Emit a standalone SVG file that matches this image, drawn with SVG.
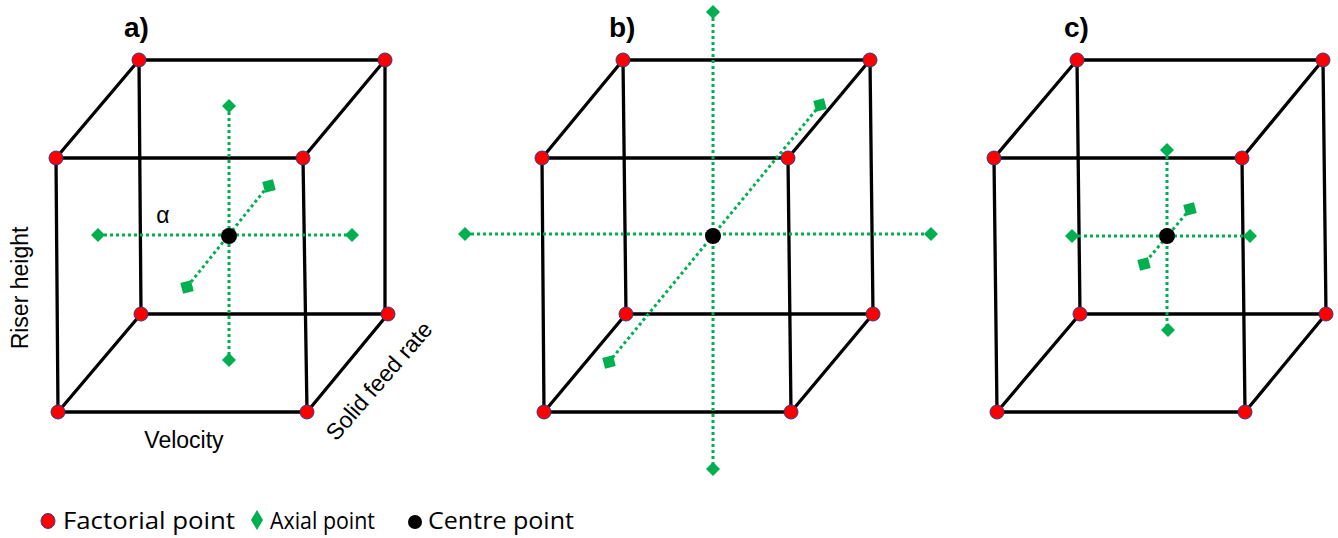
<svg xmlns="http://www.w3.org/2000/svg" width="1338" height="538" viewBox="0 0 1338 538">
<style>
.edge{stroke:#000;stroke-width:3.3;fill:none;stroke-linecap:square}
.ax{stroke:#00B050;stroke-width:3;stroke-dasharray:3 3;fill:none}
.fp{fill:#FF0000;stroke:#2F3C8C;stroke-width:1}
.dm{fill:#00B050}
.cp{fill:#000}
.lbl{font-family:"Liberation Sans",Arial,sans-serif;font-size:28px;font-weight:bold;fill:#000}
.t{font-family:"Liberation Sans",Arial,sans-serif;font-size:23px;fill:#000}
.lg{font-family:"Open Sans","Liberation Sans",sans-serif;font-size:24px;fill:#000}
</style>
<defs>
<path id="dia" d="M0,-7 L7,0 L0,7 L-7,0 Z" class="dm"/>
<rect id="sq" x="-5.5" y="-5.5" width="11" height="11" class="dm"/>
</defs>

<g id="cube-a">
<text class="lbl" x="124" y="37">a)</text>
<g id="a-edges">
<path class="edge" d="M139,60 H385 V314 H141 Z"/>
<path class="edge" d="M56,158 H303 L307,412 H58 Z"/>
<path class="edge" d="M56,158 L139,60 M303,158 L385,60 M58,412 L141,314 M307,412 L388,314"/>
</g>
<g id="a-axes">
<path class="ax" d="M229,106 V360 M98,235 H352 M268,186 L187,287"/>
</g>
<use href="#dia" x="229" y="106"/><use href="#dia" x="229" y="360"/>
<use href="#dia" x="98" y="235"/><use href="#dia" x="352" y="235"/>
<use href="#sq" transform="translate(269,186) rotate(-15)"/>
<use href="#sq" transform="translate(187,287) rotate(-15)"/>
<circle class="cp" cx="229" cy="236" r="8"/>
<circle class="fp" cx="139" cy="60" r="7"/><circle class="fp" cx="385" cy="60" r="7"/>
<circle class="fp" cx="56" cy="158" r="7"/><circle class="fp" cx="303" cy="158" r="7"/>
<circle class="fp" cx="141" cy="314" r="7"/><circle class="fp" cx="388" cy="314" r="7"/>
<circle class="fp" cx="58" cy="412" r="7"/><circle class="fp" cx="307" cy="412" r="7"/>
<text class="t" x="163" y="223" text-anchor="middle" font-size="24">α</text>
<text class="t" x="184" y="448" text-anchor="middle" font-size="24">Velocity</text>
<text class="t" transform="translate(28,288) rotate(-90)" text-anchor="middle" font-size="24">Riser height</text>
<text class="t" transform="translate(385,386) rotate(-49)" text-anchor="middle" font-size="24">Solid feed rate</text>
</g>

<g id="cube-b">
<text class="lbl" x="609" y="37">b)</text>
<g id="b-edges">
<path class="edge" d="M623,60 H870 L873,314 H626 Z"/>
<path class="edge" d="M542,158 H788 L791,412 H544 Z"/>
<path class="edge" d="M542,158 L623,60 M788,158 L870,60 M544,412 L626,314 M791,412 L873,314"/>
</g>
<g id="b-axes">
<path class="ax" d="M713,12 V469 M465,234 H931 M820,105 L609,362"/>
</g>
<use href="#dia" x="713" y="12"/><use href="#dia" x="713" y="469"/>
<use href="#dia" x="465" y="234"/><use href="#dia" x="931" y="234"/>
<use href="#sq" transform="translate(820,105) rotate(-15)"/>
<use href="#sq" transform="translate(609,362) rotate(-15)"/>
<circle class="cp" cx="713" cy="236" r="8"/>
<circle class="fp" cx="623" cy="60" r="7"/><circle class="fp" cx="870" cy="60" r="7"/>
<circle class="fp" cx="542" cy="158" r="7"/><circle class="fp" cx="788" cy="158" r="7"/>
<circle class="fp" cx="626" cy="314" r="7"/><circle class="fp" cx="873" cy="314" r="7"/>
<circle class="fp" cx="544" cy="412" r="7"/><circle class="fp" cx="791" cy="412" r="7"/>
</g>

<g id="cube-c">
<text class="lbl" x="1064" y="37">c)</text>
<g id="c-edges">
<path class="edge" d="M1077,60 H1323 L1326,314 H1080 Z"/>
<path class="edge" d="M994,158 H1242 L1245,412 H997 Z"/>
<path class="edge" d="M994,158 L1077,60 M1242,158 L1323,60 M997,412 L1080,314 M1245,412 L1326,314"/>
</g>
<g id="c-axes">
<path class="ax" d="M1167,150 V330 M1072,236 H1250 M1190,209 L1144,264"/>
</g>
<use href="#dia" x="1167" y="150"/><use href="#dia" x="1168" y="330"/>
<use href="#dia" x="1072" y="236"/><use href="#dia" x="1250" y="236"/>
<use href="#sq" transform="translate(1190,209) rotate(-15)"/>
<use href="#sq" transform="translate(1144,264) rotate(-15)"/>
<circle class="cp" cx="1167" cy="236" r="8"/>
<circle class="fp" cx="1077" cy="60" r="7"/><circle class="fp" cx="1323" cy="60" r="7"/>
<circle class="fp" cx="994" cy="158" r="7"/><circle class="fp" cx="1242" cy="158" r="7"/>
<circle class="fp" cx="1080" cy="314" r="7"/><circle class="fp" cx="1326" cy="314" r="7"/>
<circle class="fp" cx="997" cy="412" r="7"/><circle class="fp" cx="1245" cy="412" r="7"/>
</g>

<g id="legend">
<ellipse class="fp" cx="48" cy="521" rx="7" ry="7.5"/>
<text class="lg" x="63" y="529" textLength="172" lengthAdjust="spacingAndGlyphs">Factorial point</text>
<path d="M257,510 L263,520 L257,530 L251,520 Z" class="dm"/>
<text class="lg" x="270" y="529" textLength="105" lengthAdjust="spacingAndGlyphs">Axial point</text>
<circle class="cp" cx="415" cy="522" r="7"/>
<text class="lg" x="428" y="529" textLength="146" lengthAdjust="spacingAndGlyphs">Centre point</text>
</g>
</svg>
